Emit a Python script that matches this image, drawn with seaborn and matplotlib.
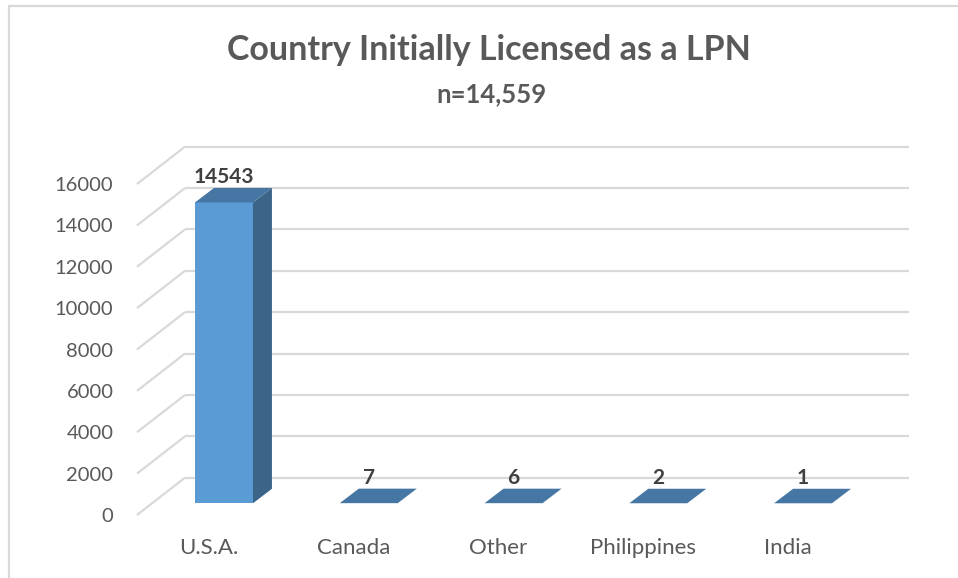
import matplotlib
matplotlib.use("Agg")
import matplotlib.pyplot as plt
import seaborn as sns
import pandas as pd
from matplotlib.patches import Polygon
from matplotlib.lines import Line2D
from matplotlib.transforms import ScaledTranslation

# ---- data ----
countries = ["U.S.A.", "Canada", "Other", "Philippines", "India"]
counts = [14543, 7, 6, 2, 1]
y_ticks = [0, 2000, 4000, 6000, 8000, 10000, 12000, 14000, 16000]
title = "Country Initially Licensed as a LPN"
subtitle = "n=14,559"

df = pd.DataFrame({"country": countries, "count": counts})

sns.set_theme(style="white")
plt.rcParams["font.family"] = ["Lato", "DejaVu Sans"]

W, H, DPI = 958, 578, 100
fig = plt.figure(figsize=(W / DPI, H / DPI), dpi=DPI)
fig.patch.set_facecolor("white")

# axes = the plane of the bar fronts
ax_left, ax_right = 151.6, 875.4
ax_bottom, ax_top = 503.3, 172.3
ax = fig.add_axes([ax_left / W, 1 - ax_bottom / H,
                   (ax_right - ax_left) / W, (ax_bottom - ax_top) / H])
ax.set_facecolor("none")

FRONT = "#5b9bd5"
SIDE = "#3b6489"
TOP = "#4676a3"
GRID = "#d9d9d9"
TXT = "#595959"
LBL = "#404040"

sns.barplot(data=df, x="country", y="count", color=FRONT, width=0.40,
            saturation=1, ax=ax, zorder=3)
ax.set_xlim(-0.5, 4.5)
ax.set_ylim(0, 16000)

# pixel -> data conversions
px_x = 5.0 / (ax_right - ax_left)
px_y = 16000.0 / (ax_bottom - ax_top)

# 3D depth of bars
bdx, bdy = 19 * px_x, 14.5 * px_y
for p in list(ax.patches):
    x0 = p.get_x(); w = p.get_width(); h = p.get_height()
    p.set_edgecolor("none")
    side = Polygon([(x0 + w, 0), (x0 + w + bdx, bdy), (x0 + w + bdx, h + bdy), (x0 + w, h)],
                   closed=True, facecolor=SIDE, edgecolor="none", zorder=3, clip_on=False)
    top = Polygon([(x0, h), (x0 + bdx, h + bdy), (x0 + w + bdx, h + bdy), (x0 + w, h)],
                  closed=True, facecolor=TOP, edgecolor="none", zorder=3, clip_on=False)
    ax.add_patch(side)
    ax.add_patch(top)
    ax.annotate(f"{int(round(h))}", (x0 + w / 2, h + bdy),
                xytext=(0, 11), textcoords="offset pixels", ha="center", va="center",
                fontsize=15, fontweight="bold", color=LBL, zorder=5, annotation_clip=False)

# back wall gridlines and side-wall diagonals
back_dy = 25.6 * px_y
front_dy = -11.7 * px_y
xb0 = (185 - 224) * px_x
xb1 = (909 - 224) * px_x
xf0 = (137 - 224) * px_x
for v in y_ticks:
    ax.plot([xb0, xb1], [v + back_dy, v + back_dy], color=GRID, lw=1.6,
            zorder=1, clip_on=False, solid_capstyle="butt")
    ax.plot([xf0, xb0], [v + front_dy, v + back_dy], color=GRID, lw=1.6,
            zorder=1, clip_on=False, solid_capstyle="butt")

# axes styling
for s in ax.spines.values():
    s.set_visible(False)
ax.set_xlabel("")
ax.set_ylabel("")
ax.set_yticks(y_ticks)
ax.set_yticklabels([str(v) for v in y_ticks])
ax.tick_params(axis="both", length=0, labelcolor=TXT)
ax.tick_params(axis="y", pad=27.5, labelsize=14.5)
ax.tick_params(axis="x", pad=25, labelsize=16)
for lab in ax.get_yticklabels():
    lab.set_transform(lab.get_transform() + ScaledTranslation(0, -11.7 / DPI, fig.dpi_scale_trans))
for lab in ax.get_xticklabels():
    lab.set_transform(lab.get_transform() + ScaledTranslation(-15 / DPI, 0, fig.dpi_scale_trans))

# titles
fig.text(489 / W, 1 - 50 / H, title, ha="center", va="center", fontsize=24.5,
         fontweight="bold", color=TXT)
fig.text(491 / W, 1 - 94 / H, subtitle, ha="center", va="center", fontsize=18.5,
         fontweight="bold", color=TXT)

# chart border
fig.add_artist(Line2D([8.5 / W, 8.5 / W], [0, 1 - 6 / H], color=GRID, lw=1.6,
                      transform=fig.transFigure))
fig.add_artist(Line2D([8.5 / W, 1], [1 - 6 / H, 1 - 6 / H], color=GRID, lw=1.6,
                      transform=fig.transFigure))

fig.savefig("out.png", dpi=DPI)
